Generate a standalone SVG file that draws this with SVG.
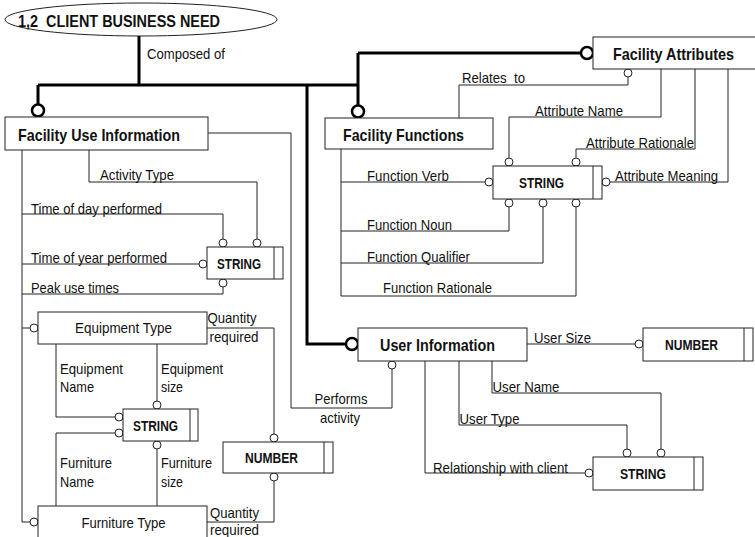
<svg xmlns="http://www.w3.org/2000/svg" width="755" height="537" viewBox="0 0 755 537">
  <style>
    .box { fill: #fff; stroke: #222; stroke-width: 1; }
    .ln { fill: none; stroke: #222; stroke-width: 1; }
    .thick { fill: none; stroke: #000; stroke-width: 3; }
    .oc { fill: #fff; stroke: #222; stroke-width: 1; }
    .boc { fill: #fff; stroke: #000; stroke-width: 2.5; }
    text { font-family: "Liberation Sans Narrow", "Arial Narrow", "Liberation Sans", Arial, sans-serif; fill: #111; }
    .t { font-size: 15px; }
    .ent { font-size: 17px; font-weight: bold; }
    .dt { font-size: 14px; font-weight: bold; }
  </style>

  <!-- connectors -->
  <g id="connectors">
    <!-- composition (thick) -->
    <path class="thick" d="M139,36 V85 M38,85 H358 M38,85 V104 M358,53 V105 M358,53 H580 M307,85 V344 H345"/>
    <circle class="boc" cx="38" cy="110.5" r="6"/>
    <circle class="boc" cx="358" cy="111.5" r="6"/>
    <circle class="boc" cx="587" cy="53" r="6"/>
    <circle class="boc" cx="352" cy="344" r="6"/>

    <!-- facility use information -->
    <path class="ln" d="M208,133 H291 V408 H392 V369"/>
    <path class="ln" d="M89,150 V182 H257 V239"/>
    <path class="ln" d="M22,150 V522 H30 M22,328 H30"/>
    <path class="ln" d="M22,214 H223 V239"/>
    <path class="ln" d="M22,264 H199"/>
    <path class="ln" d="M22,294 H223 V287"/>
    <circle class="oc" cx="257" cy="243" r="4"/>
    <circle class="oc" cx="223" cy="243" r="4"/>
    <circle class="oc" cx="203" cy="264" r="4"/>
    <circle class="oc" cx="223" cy="283" r="4"/>
    <circle class="oc" cx="34" cy="328" r="4"/>
    <circle class="oc" cx="34" cy="522" r="4"/>

    <!-- equipment / furniture -->
    <path class="ln" d="M56,344 V417 H115"/>
    <path class="ln" d="M157,344 V401"/>
    <path class="ln" d="M115,433 H56 V506"/>
    <path class="ln" d="M157,449 V506"/>
    <path class="ln" d="M207,328 H274 V434"/>
    <path class="ln" d="M207,522 H274 V481"/>
    <circle class="oc" cx="119" cy="417" r="4"/>
    <circle class="oc" cx="119" cy="433" r="4"/>
    <circle class="oc" cx="157" cy="405" r="4"/>
    <circle class="oc" cx="157" cy="445" r="4"/>
    <circle class="oc" cx="274" cy="438" r="4"/>
    <circle class="oc" cx="274" cy="477" r="4"/>

    <!-- facility functions / attributes -->
    <path class="ln" d="M459,118 V85 H628 V77"/>
    <path class="ln" d="M661,69 V117 H509 V158"/>
    <path class="ln" d="M695,69 V149 H576 V158"/>
    <path class="ln" d="M728,69 V182 H610"/>
    <path class="ln" d="M341,149 V296 H576 V207"/>
    <path class="ln" d="M341,182 H485"/>
    <path class="ln" d="M341,231 H509 V207"/>
    <path class="ln" d="M341,263 H543 V207"/>
    <circle class="oc" cx="628" cy="73" r="4"/>
    <circle class="oc" cx="509" cy="162" r="4"/>
    <circle class="oc" cx="576" cy="162" r="4"/>
    <circle class="oc" cx="606" cy="182" r="4"/>
    <circle class="oc" cx="489" cy="182" r="4"/>
    <circle class="oc" cx="509" cy="203" r="4"/>
    <circle class="oc" cx="543" cy="203" r="4"/>
    <circle class="oc" cx="576" cy="203" r="4"/>

    <!-- user information -->
    <path class="ln" d="M527,344 H635"/>
    <path class="ln" d="M492,361 V393 H661 V449"/>
    <path class="ln" d="M459,361 V425 H627 V449"/>
    <path class="ln" d="M425,361 V473 H585"/>
    <circle class="oc" cx="392" cy="365" r="4"/>
    <circle class="oc" cx="639" cy="344" r="4"/>
    <circle class="oc" cx="661" cy="453" r="4"/>
    <circle class="oc" cx="627" cy="453" r="4"/>
    <circle class="oc" cx="589" cy="473" r="4"/>

    <!-- connector labels -->
    <text class="t" x="147" y="58.5" textLength="78" lengthAdjust="spacingAndGlyphs">Composed of</text>
    <text class="t" x="462" y="83" textLength="63" lengthAdjust="spacingAndGlyphs" xml:space="preserve">Relates  to</text>
    <text class="t" x="535" y="116" textLength="88" lengthAdjust="spacingAndGlyphs">Attribute Name</text>
    <text class="t" x="586" y="148" textLength="108" lengthAdjust="spacingAndGlyphs">Attribute Rationale</text>
    <text class="t" x="615" y="180.5" textLength="103" lengthAdjust="spacingAndGlyphs">Attribute Meaning</text>
    <text class="t" x="367" y="180.5" textLength="82" lengthAdjust="spacingAndGlyphs">Function Verb</text>
    <text class="t" x="367" y="230" textLength="85" lengthAdjust="spacingAndGlyphs">Function Noun</text>
    <text class="t" x="367" y="261.5" textLength="103" lengthAdjust="spacingAndGlyphs">Function Qualifier</text>
    <text class="t" x="383" y="293" textLength="109" lengthAdjust="spacingAndGlyphs">Function Rationale</text>
    <text class="t" x="100" y="180" textLength="74" lengthAdjust="spacingAndGlyphs">Activity Type</text>
    <text class="t" x="31" y="214" textLength="131" lengthAdjust="spacingAndGlyphs">Time of day performed</text>
    <text class="t" x="31" y="262.5" textLength="136" lengthAdjust="spacingAndGlyphs">Time of year performed</text>
    <text class="t" x="31" y="292.5" textLength="88" lengthAdjust="spacingAndGlyphs">Peak use times</text>
    <text class="t" x="207.5" y="323" textLength="49" lengthAdjust="spacingAndGlyphs">Quantity</text>
    <text class="t" x="209.5" y="341.5" textLength="49" lengthAdjust="spacingAndGlyphs">required</text>
    <text class="t" x="60" y="374" textLength="63" lengthAdjust="spacingAndGlyphs">Equipment</text>
    <text class="t" x="60" y="391.5" textLength="34" lengthAdjust="spacingAndGlyphs">Name</text>
    <text class="t" x="161" y="374" textLength="62" lengthAdjust="spacingAndGlyphs">Equipment</text>
    <text class="t" x="161" y="391.5" textLength="22" lengthAdjust="spacingAndGlyphs">size</text>
    <text class="t" x="60" y="468" textLength="52" lengthAdjust="spacingAndGlyphs">Furniture</text>
    <text class="t" x="60" y="487" textLength="34" lengthAdjust="spacingAndGlyphs">Name</text>
    <text class="t" x="161" y="468" textLength="51" lengthAdjust="spacingAndGlyphs">Furniture</text>
    <text class="t" x="161" y="487" textLength="22" lengthAdjust="spacingAndGlyphs">size</text>
    <text class="t" x="210" y="518" textLength="49" lengthAdjust="spacingAndGlyphs">Quantity</text>
    <text class="t" x="210" y="535" textLength="49" lengthAdjust="spacingAndGlyphs">required</text>
    <text class="t" x="314.5" y="404" textLength="53" lengthAdjust="spacingAndGlyphs">Performs</text>
    <text class="t" x="320" y="423" textLength="40" lengthAdjust="spacingAndGlyphs">activity</text>
    <text class="t" x="534" y="342.5" textLength="57" lengthAdjust="spacingAndGlyphs">User Size</text>
    <text class="t" x="492.5" y="391.5" textLength="67" lengthAdjust="spacingAndGlyphs">User Name</text>
    <text class="t" x="459.5" y="423.5" textLength="60" lengthAdjust="spacingAndGlyphs">User Type</text>
    <text class="t" x="433" y="472.5" textLength="135" lengthAdjust="spacingAndGlyphs">Relationship with client</text>
  </g>

  <!-- nodes -->
  <g id="client-business-need">
    <ellipse class="box" cx="141" cy="19.5" rx="136" ry="16.5"/>
    <text class="ent" x="18" y="27" textLength="202" lengthAdjust="spacingAndGlyphs" xml:space="preserve">1,2  CLIENT BUSINESS NEED</text>
  </g>

  <g id="facility-use-information">
    <rect class="box" x="5" y="117" width="203" height="33"/>
    <text class="ent" x="18" y="140.5" textLength="162" lengthAdjust="spacingAndGlyphs">Facility Use Information</text>
  </g>

  <g id="facility-functions">
    <rect class="box" x="325" y="118" width="168" height="31"/>
    <text class="ent" x="343" y="141" textLength="121" lengthAdjust="spacingAndGlyphs">Facility Functions</text>
  </g>

  <g id="facility-attributes">
    <rect class="box" x="593" y="37" width="170" height="32"/>
    <text class="ent" x="613" y="60" textLength="121" lengthAdjust="spacingAndGlyphs">Facility Attributes</text>
  </g>

  <g id="string-functions">
    <rect class="box" x="493" y="166" width="109" height="33"/>
    <line class="ln" x1="593" y1="166" x2="593" y2="199"/>
    <text class="dt" x="519" y="188" textLength="45" lengthAdjust="spacingAndGlyphs">STRING</text>
  </g>

  <g id="string-use">
    <rect class="box" x="207" y="247" width="76" height="32"/>
    <line class="ln" x1="274" y1="247" x2="274" y2="279"/>
    <text class="dt" x="217" y="269" textLength="44" lengthAdjust="spacingAndGlyphs">STRING</text>
  </g>

  <g id="equipment-type">
    <rect class="box" x="38" y="312" width="169" height="32"/>
    <text class="t" x="75" y="333" textLength="97" lengthAdjust="spacingAndGlyphs">Equipment Type</text>
  </g>

  <g id="string-items">
    <rect class="box" x="123" y="409" width="75" height="32"/>
    <line class="ln" x1="190" y1="409" x2="190" y2="441"/>
    <text class="dt" x="133" y="430.5" textLength="45" lengthAdjust="spacingAndGlyphs">STRING</text>
  </g>

  <g id="number-quantity">
    <rect class="box" x="223" y="442" width="110" height="31"/>
    <line class="ln" x1="324" y1="442" x2="324" y2="473"/>
    <text class="dt" x="245" y="463" textLength="53" lengthAdjust="spacingAndGlyphs">NUMBER</text>
  </g>

  <g id="furniture-type">
    <rect class="box" x="38" y="506" width="169" height="40"/>
    <text class="t" x="81.5" y="527.5" textLength="84" lengthAdjust="spacingAndGlyphs">Furniture Type</text>
  </g>

  <g id="user-information">
    <rect class="box" x="358" y="328" width="169" height="33"/>
    <text class="ent" x="380" y="351" textLength="115" lengthAdjust="spacingAndGlyphs">User Information</text>
  </g>

  <g id="number-user-size">
    <rect class="box" x="643" y="328" width="110" height="33"/>
    <line class="ln" x1="744" y1="328" x2="744" y2="361"/>
    <text class="dt" x="665" y="350" textLength="53" lengthAdjust="spacingAndGlyphs">NUMBER</text>
  </g>

  <g id="string-user">
    <rect class="box" x="593" y="457" width="110" height="33"/>
    <line class="ln" x1="694" y1="457" x2="694" y2="490"/>
    <text class="dt" x="620" y="479" textLength="46" lengthAdjust="spacingAndGlyphs">STRING</text>
  </g>
</svg>
